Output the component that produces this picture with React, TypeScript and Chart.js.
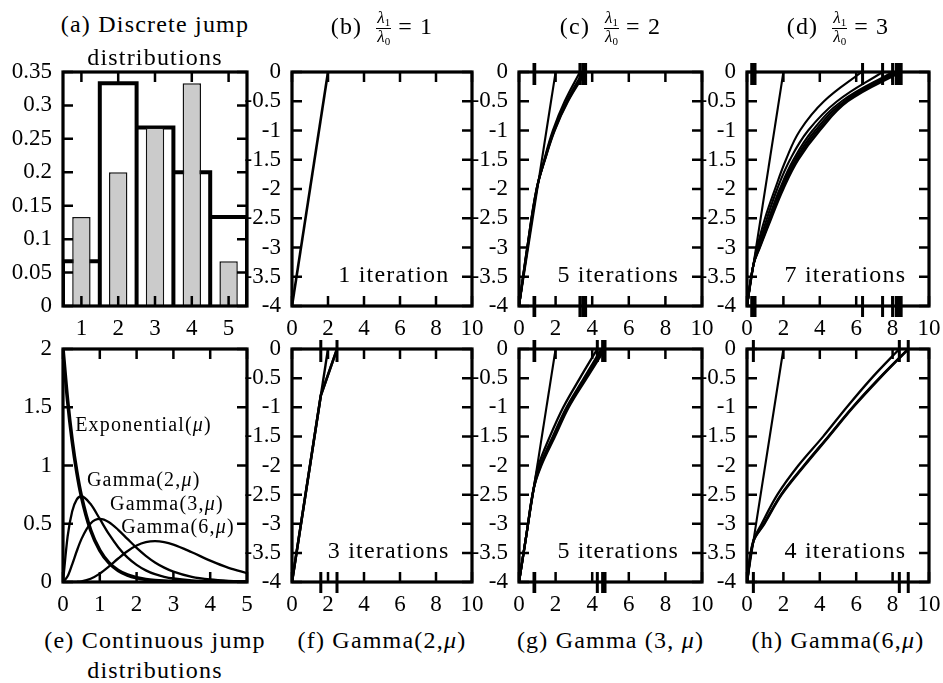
import React, { useEffect, useRef } from "react";
import { Chart, registerables } from "chart.js";

Chart.register(...registerables);

const FONT = "'Liberation Serif', 'Times New Roman', serif";

// ---------------- data ----------------
// (a) discrete jump distributions
const jumpSizes = [1, 2, 3, 4, 5];
const discreteGray = [0.133, 0.2, 0.267, 0.333, 0.067];
const discreteOutline = [0.067, 0.333, 0.267, 0.2, 0.133];

// (e) continuous jump distributions (densities)
const contX = [0, 0.125, 0.25, 0.375, 0.5, 0.75, 1, 1.25, 1.5, 1.75, 2, 2.25, 2.5, 2.75, 3, 3.5, 4, 4.5, 5];
const expPdf = [2, 1.558, 1.213, 0.945, 0.736, 0.446, 0.271, 0.164, 0.0996, 0.0604, 0.0366, 0.0222, 0.0135, 0.0082, 0.005, 0.0018, 0.0007, 0.0002, 0.0001];
const gamma2Pdf = [0, 0.389, 0.607, 0.709, 0.736, 0.669, 0.541, 0.41, 0.299, 0.211, 0.147, 0.1, 0.067, 0.045, 0.03, 0.0128, 0.0054, 0.0022, 0.0009];
const gamma3Pdf = [0, 0.0487, 0.152, 0.266, 0.368, 0.502, 0.541, 0.513, 0.448, 0.37, 0.293, 0.225, 0.168, 0.1236, 0.089, 0.0447, 0.0215, 0.01, 0.0045];
const gamma6Pdf = [0, 0.00001, 0.0003, 0.0019, 0.0061, 0.0282, 0.0722, 0.1336, 0.2017, 0.2643, 0.3126, 0.3417, 0.3509, 0.3429, 0.3213, 0.2555, 0.1831, 0.1214, 0.0757];

// first iteration (straight line) shared by all panels
const firstIterX = [0, 2];
const firstIterY = [-4, 0];

// (c) lambda1/lambda0 = 2
const cLevels = [-4, -3, -2, -1.5, -1, -0.5, 0];
const cIter2 = [0, 0.47, 0.98, 1.38, 1.85, 2.5, 3.33];
const cIter3 = [0, 0.46, 0.97, 1.4, 1.9, 2.6, 3.5];
const cIter4 = [0, 0.45, 0.96, 1.41, 1.93, 2.65, 3.6];
const cIter5 = [0, 0.45, 0.96, 1.42, 1.95, 2.68, 3.65];
const cRug = [0.82, 0.86, 3.33, 3.5, 3.64];

// (d) lambda1/lambda0 = 3
const dLevels = [-4, -3.3, -3, -2.5, -2, -1.5, -1, -0.5, 0];
const dIter2 = [0, 0.35, 0.55, 0.99, 1.54, 2.14, 2.91, 4.23, 6.3];
const dIter3 = [0, 0.35, 0.6, 1.1, 1.66, 2.36, 3.36, 4.95, 7.45];
const dIter4 = [0, 0.35, 0.64, 1.2, 1.8, 2.55, 3.6, 5.2, 8.0];
const dIter5 = [0, 0.35, 0.67, 1.26, 1.88, 2.65, 3.75, 5.35, 8.15];
const dIter6 = [0, 0.35, 0.69, 1.3, 1.94, 2.74, 3.88, 5.45, 8.3];
const dIter7 = [0, 0.35, 0.71, 1.34, 2.0, 2.82, 4.0, 5.55, 8.45];
const dRug = [0.26, 0.35, 0.44, 6.35, 7.45, 8.0, 8.2, 8.35, 8.47];

// (f) Gamma(2, mu)
const fLevels = [-4, -0.8, 0];
const fIter2 = [0, 1.6, 2.5];
const fIter3 = [0, 1.6, 2.5];
const fRug = [1.6, 2.5];

// (g) Gamma(3, mu)
const gLevels = [-4, -3.2, -2.4, -2, -1.5, -1, -0.5, 0];
const gIter2 = [0, 0.4, 0.8, 1.06, 1.69, 2.42, 3.33, 4.28];
const gIter3 = [0, 0.4, 0.8, 1.14, 1.85, 2.6, 3.55, 4.5];
const gIter4 = [0, 0.4, 0.8, 1.18, 1.92, 2.67, 3.63, 4.6];
const gIter5 = [0, 0.4, 0.8, 1.22, 1.97, 2.72, 3.7, 4.7];
const gRug = [0.82, 0.86, 4.28, 4.57, 4.7];

// (h) Gamma(6, mu)
const hLevels = [-4, -3.3, -3, -2.5, -2, -1.5, -1, -0.5, 0];
const hIter2 = [0, 0.35, 0.81, 1.67, 2.82, 4.19, 5.48, 6.85, 8.37];
const hIter3 = [0, 0.35, 0.93, 1.87, 3.13, 4.47, 5.8, 7.27, 8.86];
const hIter4 = [0, 0.35, 0.95, 1.9, 3.16, 4.5, 5.83, 7.3, 8.86];
const hRug = [0.35, 8.37, 8.86];

// tick labels
const sizeTicks = [1, 2, 3, 4, 5];
const probTicks = [0, 0.05, 0.1, 0.15, 0.2, 0.25, 0.3, 0.35];
const contTicks = [0, 1, 2, 3, 4, 5];
const densityTicks = [0, 0.5, 1, 1.5, 2];
const rateTicks = [0, 2, 4, 6, 8, 10];
const levelTicks = [-4, -3.5, -3, -2.5, -2, -1.5, -1, -0.5, 0];

// annotations
const iterationLabels = ["1 iteration", "5 iterations", "7 iterations", "3 iterations", "5 iterations", "4 iterations"];
const iterationAnchor = { x: 8.75, y: -3.59 };
const distNames = ["Exponential(", "Gamma(2,", "Gamma(3,", "Gamma(6,"];
const distLabelX = [0.33, 0.65, 1.28, 1.58];
const distLabelY = [1.3, 0.82, 0.62, 0.42];

// ---------------- layout ----------------
const ML = 72, MT = 14, MR = 14, MB = 36;
type Rect = { left: number; top: number; width: number; height: number };
const ROW1 = 72, ROW2 = 349, H1 = 234, H2 = 233;
const COLS = [
  { left: 63, width: 184 },
  { left: 292, width: 180 },
  { left: 519, width: 183 },
  { left: 747, width: 182 },
];

type Part = { t: string; italic?: boolean };
type Note = { x: number; y: number; align: "left" | "right"; size: number; parts: Part[] };

function framePlugin(rug: number[], notes: Note[]) {
  return {
    id: "frame",
    afterDraw(chart: any) {
      const { ctx, chartArea } = chart;
      const { left, top, right, bottom } = chartArea;
      const xs = chart.scales.x, ys = chart.scales.y;
      ctx.save();
      ctx.strokeStyle = "#000";
      ctx.fillStyle = "#000";
      ctx.lineCap = "butt";
      ctx.lineWidth = 2.5;
      ctx.beginPath();
      for (const t of xs.ticks) {
        const px = xs.getPixelForValue(t.value);
        ctx.moveTo(px, bottom); ctx.lineTo(px, bottom - 10);
        ctx.moveTo(px, top); ctx.lineTo(px, top + 10);
      }
      for (const t of ys.ticks) {
        const py = ys.getPixelForValue(t.value);
        ctx.moveTo(left, py); ctx.lineTo(left + 10, py);
        ctx.moveTo(right, py); ctx.lineTo(right - 10, py);
      }
      ctx.stroke();
      ctx.lineWidth = 3;
      ctx.beginPath();
      for (const r of rug) {
        const px = xs.getPixelForValue(r);
        ctx.moveTo(px, top - 9); ctx.lineTo(px, top + 13);
        ctx.moveTo(px, bottom - 10); ctx.lineTo(px, bottom + 11);
      }
      ctx.stroke();
      ctx.lineWidth = 3.2;
      ctx.strokeRect(left, top, right - left, bottom - top);

      ctx.textBaseline = "alphabetic";
      ctx.textAlign = "left";
      (ctx as any).letterSpacing = "1.2px";
      for (const n of notes) {
        const fontOf = (p: Part) => `${p.italic ? "italic " : ""}${n.size}px ${FONT}`;
        let total = 0;
        for (const p of n.parts) { ctx.font = fontOf(p); total += ctx.measureText(p.t).width; }
        let px = xs.getPixelForValue(n.x);
        const py = ys.getPixelForValue(n.y);
        if (n.align === "right") px -= total;
        for (const p of n.parts) {
          ctx.font = fontOf(p);
          ctx.fillText(p.t, px, py);
          px += ctx.measureText(p.t).width;
        }
      }
      ctx.restore();
    },
  };
}

function axis(kind: "x" | "y", min: number, max: number, ticks: number[]) {
  return {
    type: "linear",
    min,
    max,
    offset: false,
    grid: { display: false, drawTicks: false },
    border: { display: false },
    afterBuildTicks: (s: any) => { s.ticks = ticks.map((v) => ({ value: v })); },
    afterFit: (s: any) => {
      if (kind === "x") { s.height = MB; s.paddingLeft = 0; s.paddingRight = 0; }
      else { s.width = ML; s.paddingTop = 0; s.paddingBottom = 0; }
    },
    ticks: {
      autoSkip: false,
      maxRotation: 0,
      minRotation: 0,
      padding: kind === "x" ? 9 : 11,
      color: "#000",
      font: { family: FONT, size: 23 },
      callback: (v: any) => String(v),
    },
  };
}

function baseOptions(xAxis: any, yAxis: any) {
  return {
    animation: false,
    responsive: false,
    maintainAspectRatio: false,
    devicePixelRatio: 1,
    events: [],
    layout: { padding: { left: 0, top: MT, right: MR, bottom: 0 } },
    plugins: { legend: { display: false }, tooltip: { enabled: false }, title: { display: false } },
    scales: { x: xAxis, y: yAxis },
  };
}

function curve(xs: number[], ys: number[], width: number, tension = 0, extra: any = {}) {
  return {
    type: "line",
    data: xs.map((x, i) => ({ x, y: ys[i] })),
    borderColor: "#000",
    borderWidth: width,
    pointRadius: 0,
    tension,
    fill: false,
    ...extra,
  };
}

function iterationNote(i: number): Note[] {
  return [{ x: iterationAnchor.x, y: iterationAnchor.y, align: "right", size: 24, parts: [{ t: iterationLabels[i] }] }];
}

function levelChart(datasets: any[], rug: number[], noteIdx: number) {
  return {
    type: "line",
    data: { datasets },
    options: baseOptions(axis("x", 0, 10, rateTicks), axis("y", -4, 0, levelTicks)),
    plugins: [framePlugin(rug, iterationNote(noteIdx))],
  };
}

const outlinePts = jumpSizes.flatMap((c, i) => [
  { x: c - 0.5, y: 0 },
  { x: c - 0.5, y: discreteOutline[i] },
  { x: c + 0.5, y: discreteOutline[i] },
  { x: c + 0.5, y: 0 },
]);

const panels: { rect: Rect; build: () => any }[] = [
  {
    rect: { left: COLS[0].left, width: COLS[0].width, top: ROW1, height: H1 },
    build: () => {
      const xA = axis("x", 0.5, 5.5, sizeTicks);
      const yA = axis("y", 0, 0.35, probTicks);
      return {
        type: "bar",
        data: {
          datasets: [
            {
              type: "bar",
              data: jumpSizes.map((x, i) => ({ x, y: discreteGray[i] })),
              backgroundColor: "#cbcbcb",
              borderColor: "#111",
              borderWidth: 1.5,
              barPercentage: 0.5,
              categoryPercentage: 1,
              order: 0,
            },
            {
              type: "line",
              data: outlinePts,
              borderColor: "#000",
              borderWidth: 4,
              pointRadius: 0,
              tension: 0,
              fill: false,
              order: 1,
            },
          ],
        },
        options: baseOptions(xA, yA),
        plugins: [framePlugin([], [])],
      };
    },
  },
  {
    rect: { left: COLS[1].left, width: COLS[1].width, top: ROW1, height: H1 },
    build: () => levelChart([curve(firstIterX, firstIterY, 2.6)], [], 0),
  },
  {
    rect: { left: COLS[2].left, width: COLS[2].width, top: ROW1, height: H1 },
    build: () =>
      levelChart(
        [
          curve(firstIterX, firstIterY, 2.1),
          curve(cIter2, cLevels, 2.2, 0.4),
          curve(cIter3, cLevels, 2.2, 0.4),
          curve(cIter4, cLevels, 2.2, 0.4),
          curve(cIter5, cLevels, 2.2, 0.4),
        ],
        cRug,
        1
      ),
  },
  {
    rect: { left: COLS[3].left, width: COLS[3].width, top: ROW1, height: H1 },
    build: () =>
      levelChart(
        [
          curve(firstIterX, firstIterY, 2.1),
          curve(dIter2, dLevels, 2.1, 0.4),
          curve(dIter3, dLevels, 2.1, 0.4),
          curve(dIter4, dLevels, 2.1, 0.4),
          curve(dIter5, dLevels, 2.1, 0.4),
          curve(dIter6, dLevels, 2.1, 0.4),
          curve(dIter7, dLevels, 2.1, 0.4),
        ],
        dRug,
        2
      ),
  },
  {
    rect: { left: COLS[0].left, width: COLS[0].width, top: ROW2, height: H2 },
    build: () => {
      const notes: Note[] = distNames.map((name, i) => ({
        x: distLabelX[i],
        y: distLabelY[i],
        align: "left",
        size: 20,
        parts: [{ t: name }, { t: "μ", italic: true }, { t: ")" }],
      }));
      const mono = { cubicInterpolationMode: "monotone" };
      return {
        type: "line",
        data: {
          datasets: [
            curve(contX, expPdf, 3.6, 0, mono),
            curve(contX, gamma2Pdf, 2.3, 0, mono),
            curve(contX, gamma3Pdf, 2.3, 0, mono),
            curve(contX, gamma6Pdf, 2.3, 0, mono),
          ],
        },
        options: baseOptions(axis("x", 0, 5, contTicks), axis("y", 0, 2, densityTicks)),
        plugins: [framePlugin([], notes)],
      };
    },
  },
  {
    rect: { left: COLS[1].left, width: COLS[1].width, top: ROW2, height: H2 },
    build: () =>
      levelChart(
        [curve(firstIterX, firstIterY, 2.4), curve(fIter2, fLevels, 2.4), curve(fIter3, fLevels, 2.6)],
        fRug,
        3
      ),
  },
  {
    rect: { left: COLS[2].left, width: COLS[2].width, top: ROW2, height: H2 },
    build: () =>
      levelChart(
        [
          curve(firstIterX, firstIterY, 2.1),
          curve(gIter2, gLevels, 2.3, 0.35),
          curve(gIter3, gLevels, 2.3, 0.35),
          curve(gIter4, gLevels, 2.3, 0.35),
          curve(gIter5, gLevels, 2.3, 0.35),
        ],
        gRug,
        4
      ),
  },
  {
    rect: { left: COLS[3].left, width: COLS[3].width, top: ROW2, height: H2 },
    build: () =>
      levelChart(
        [
          curve(firstIterX, firstIterY, 2.1),
          curve(hIter2, hLevels, 2.3, 0.35),
          curve(hIter3, hLevels, 2.3, 0.35),
          curve(hIter4, hLevels, 2.6, 0.35),
        ],
        hRug,
        5
      ),
  },
];

function ChartPanel({ rect, build }: { rect: Rect; build: () => any }) {
  const ref = useRef<HTMLCanvasElement | null>(null);
  useEffect(() => {
    const chart = new Chart(ref.current as HTMLCanvasElement, build());
    return () => chart.destroy();
  }, []);
  const w = rect.width + ML + MR;
  const h = rect.height + MT + MB;
  return (
    <canvas
      ref={ref}
      width={w}
      height={h}
      style={{ position: "absolute", left: rect.left - ML, top: rect.top - MT, width: w, height: h }}
    />
  );
}

const textStyle: React.CSSProperties = {
  position: "absolute",
  width: 320,
  textAlign: "center",
  fontFamily: FONT,
  fontSize: 24,
  lineHeight: "24px",
  letterSpacing: "1.2px",
  whiteSpace: "nowrap",
  color: "#000",
};

function TextLine({ center, top, children }: { center: number; top: number; children: React.ReactNode }) {
  return <div style={{ ...textStyle, left: center - 160, top }}>{children}</div>;
}

function Frac() {
  const sub: React.CSSProperties = { fontSize: 11, position: "relative", top: 3, fontStyle: "normal" };
  return (
    <span
      style={{
        display: "inline-flex",
        flexDirection: "column",
        alignItems: "center",
        verticalAlign: "middle",
        fontSize: 17,
        lineHeight: "14px",
        letterSpacing: 0,
        margin: "0 7px 0 14px",
        position: "relative",
        top: 0,
      }}
    >
      <span style={{ padding: "0 1px 2px" }}>
        <i>λ</i>
        <span style={sub}>1</span>
      </span>
      <span style={{ borderTop: "1px solid #000", padding: "1px 1px 0" }}>
        <i>λ</i>
        <span style={sub}>0</span>
      </span>
    </span>
  );
}

const CENTERS = COLS.map((c) => c.left + c.width / 2);
const ratioValues = ["1", "2", "3"];
const ratioTags = ["(b)", "(c)", "(d)"];

export default function App() {
  return (
    <div style={{ position: "absolute", left: 0, top: 0, width: 943, height: 683, background: "#fff", overflow: "hidden" }}>
      {panels.map((p, i) => (
        <ChartPanel key={i} rect={p.rect} build={p.build} />
      ))}
      <TextLine center={CENTERS[0]} top={12}>(a) Discrete jump</TextLine>
      <TextLine center={CENTERS[0]} top={45}>distributions</TextLine>
      {ratioTags.map((tag, i) => (
        <TextLine key={tag} center={CENTERS[i + 1]} top={11}>
          {tag}
          <Frac />
          {"= "}
          {ratioValues[i]}
        </TextLine>
      ))}
      <TextLine center={CENTERS[0]} top={628}>(e) Continuous jump</TextLine>
      <TextLine center={CENTERS[0]} top={658}>distributions</TextLine>
      <TextLine center={CENTERS[1]} top={628}>
        (f) Gamma(2,<i>μ</i>)
      </TextLine>
      <TextLine center={CENTERS[2]} top={628}>
        (g) Gamma (3, <i>μ</i>)
      </TextLine>
      <TextLine center={CENTERS[3]} top={628}>
        (h) Gamma(6,<i>μ</i>)
      </TextLine>
    </div>
  );
}
